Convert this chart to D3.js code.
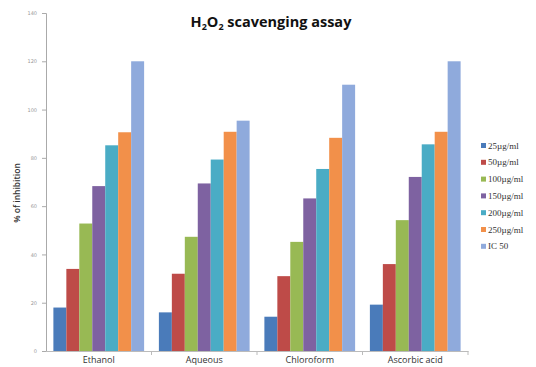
<!DOCTYPE html>
<html>
<head>
<meta charset="utf-8">
<script src="https://cdn.jsdelivr.net/npm/d3@7"></script>
<style>
  html, body { margin: 0; padding: 0; background: #fff; }
  svg { display: block; }
</style>
</head>
<body>
<svg id="chart" width="536" height="367"></svg>
<script>
// Extracts along the x axis
const categories = ["Ethanol", "Aqueous", "Chloroform", "Ascorbic acid"];
// Concentration series (legend order)
const seriesNames = ["25µg/ml", "50µg/ml", "100µg/ml", "150µg/ml", "200µg/ml", "250µg/ml", "IC 50"];
// % inhibition per series, one value per extract
const conc25  = [18, 16, 14.2, 19.2];
const conc50  = [34, 32, 31, 36];
const conc100 = [52.8, 47.3, 45.2, 54.2];
const conc150 = [68.3, 69.4, 63.2, 72.1];
const conc200 = [85.2, 79.3, 75.4, 85.6];
const conc250 = [90.6, 90.8, 88.3, 90.8];
const ic50    = [120, 95.4, 110.3, 120];
const yTicks  = [0, 20, 40, 60, 80, 100, 120, 140];
const seriesColors = ["#4A7BBA", "#BE4B48", "#98B954", "#7E62A1", "#4AACC5", "#F2904A", "#8FAADC"];

const seriesValues = [conc25, conc50, conc100, conc150, conc200, conc250, ic50];

const svg = d3.select("#chart");
const plot = { left: 46, right: 468, top: 13, bottom: 351 };

const x0 = d3.scaleBand().domain(categories).range([plot.left, plot.right]).paddingInner(0).paddingOuter(0);
const x1 = d3.scaleBand().domain(seriesNames).range([0, x0.bandwidth()]).paddingOuter(0.57).paddingInner(0);
const y = d3.scaleLinear().domain([0, 140]).range([plot.bottom, plot.top]);

// Title with subscripts
const title = svg.append("text")
  .attr("x", 271).attr("y", 27)
  .attr("text-anchor", "middle")
  .attr("font-family", "'Open Sans', 'DejaVu Sans', sans-serif")
  .attr("font-weight", "bold")
  .attr("font-size", 14.5)
  .attr("fill", "#111");
title.append("tspan").text("H");
title.append("tspan").text("2").attr("font-size", 9).attr("dy", 3);
title.append("tspan").text("O").attr("dy", -3);
title.append("tspan").text("2").attr("font-size", 9).attr("dy", 3);
title.append("tspan").text(" scavenging assay").attr("dy", -3);

// Bars
const groups = svg.append("g").selectAll("g")
  .data(categories)
  .join("g")
  .attr("transform", d => `translate(${x0(d)},0)`);

groups.selectAll("rect")
  .data((c, ci) => seriesNames.map((s, si) => ({ s, si, v: seriesValues[si][ci] })))
  .join("rect")
  .attr("x", d => x1(d.s))
  .attr("width", x1.bandwidth())
  .attr("y", d => y(d.v))
  .attr("height", d => y(0) - y(d.v))
  .attr("fill", d => seriesColors[d.si]);

// Y axis
const yAxis = svg.append("g")
  .attr("transform", `translate(${plot.left},0)`)
  .call(d3.axisLeft(y).tickValues(yTicks).tickSize(4).tickPadding(5));
yAxis.select(".domain").attr("stroke", "#aaa");
yAxis.selectAll(".tick line").attr("stroke", "#aaa");
yAxis.selectAll(".tick text")
  .attr("font-family", "'DejaVu Sans', sans-serif")
  .attr("font-size", 5)
  .attr("fill", "#999");

// X axis
const xAxis = svg.append("g")
  .attr("transform", `translate(0,${plot.bottom})`)
  .call(d3.axisBottom(x0).tickSize(0).tickPadding(6));
xAxis.select(".domain").attr("stroke", "#bbb");
xAxis.selectAll(".tick text")
  .attr("font-family", "'Open Sans', 'DejaVu Sans', sans-serif")
  .attr("font-size", 9)
  .attr("fill", "#333");
// category boundary marks
svg.append("g").selectAll("line")
  .data(categories)
  .join("line")
  .attr("x1", d => x0(d) + x0.bandwidth())
  .attr("x2", d => x0(d) + x0.bandwidth())
  .attr("y1", plot.bottom).attr("y2", plot.bottom + 4)
  .attr("stroke", "#bbb");

// Y axis title
svg.append("text")
  .attr("transform", "translate(20,193) rotate(-90)")
  .attr("text-anchor", "middle")
  .attr("font-family", "'Open Sans', 'DejaVu Sans', sans-serif")
  .attr("font-size", 8.5)
  .attr("font-weight", 600)
  .attr("fill", "#333")
  .text("% of inhibition");

// Legend
const legend = svg.append("g").selectAll("g")
  .data(seriesNames)
  .join("g")
  .attr("transform", (d, i) => `translate(481,${146 + i * 16.8})`);
legend.append("rect")
  .attr("x", 0).attr("y", -3).attr("width", 5).attr("height", 5)
  .attr("fill", (d, i) => seriesColors[i]);
legend.append("text")
  .attr("x", 7).attr("y", 2.5)
  .attr("font-family", "'Liberation Serif', 'DejaVu Serif', serif")
  .attr("font-size", 9)
  .attr("fill", "#333")
  .text(d => d);
</script>
</body>
</html>
